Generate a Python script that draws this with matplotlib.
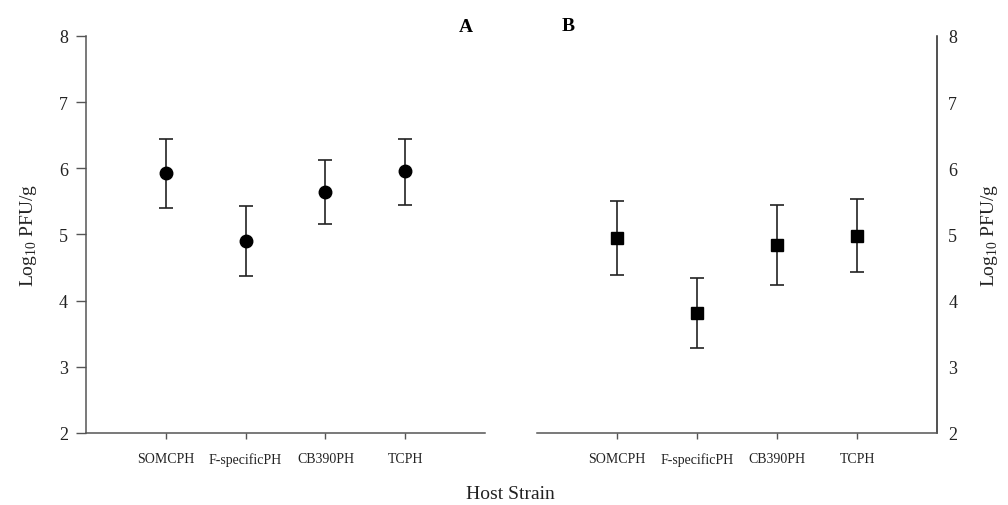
import matplotlib.pyplot as plt
import numpy as np

# Log10 PFU/g per host strain, panels A and B (mean with upper/lower bar ends)
strains = ["SOMCPH", "F-specificPH", "CB390PH", "TCPH"]

a_mean = [5.93, 4.90, 5.64, 5.96]
a_upper = [6.44, 5.43, 6.12, 6.45]
a_lower = [5.40, 4.38, 5.16, 5.45]

b_mean = [4.95, 3.82, 4.84, 4.98]
b_upper = [5.51, 4.34, 5.45, 5.53]
b_lower = [4.39, 3.29, 4.24, 4.43]

plt.rcParams['font.family'] = ['Liberation Serif', 'DejaVu Serif']
plt.rcParams['mathtext.fontset'] = 'custom'
plt.rcParams['mathtext.rm'] = 'Liberation Serif'

SPINE_COLOUR = "#555555"
TEXT_COLOUR = "#222222"

fig = plt.figure(figsize=(10.08, 5.06), dpi=100)
axA = fig.add_axes([0.0853, 0.1423, 0.396, 0.7846])
axB = fig.add_axes([0.5327, 0.1423, 0.397, 0.7846])

x = np.arange(1, len(strains) + 1)


def drawPanel(ax, mean, upper, lower, marker, ms):
    mean = np.array(mean)
    yerr = [mean - np.array(lower), np.array(upper) - mean]
    ax.errorbar(x, mean, yerr=yerr, fmt=marker, color='black', ms=ms,
                ecolor='#222222', elinewidth=1.2, capsize=5, capthick=1.2)
    ax.set_xlim(0, 5)
    ax.set_ylim(2, 8)
    ax.set_xticks(x)
    ax.set_xticklabels(strains, fontsize=10, color=TEXT_COLOUR)
    ax.set_yticks(range(2, 9))
    ax.spines['top'].set_visible(False)
    for s in ax.spines.values():
        s.set_color(SPINE_COLOUR)
        s.set_linewidth(1.1)
    ax.tick_params(axis='x', length=4, width=1, color=SPINE_COLOUR, pad=10)
    ax.tick_params(axis='y', labelsize=13, labelcolor=TEXT_COLOUR)


drawPanel(axA, a_mean, a_upper, a_lower, 'o', 9)
axA.spines['right'].set_visible(False)
axA.tick_params(axis='y', length=7, width=1, color=SPINE_COLOUR, pad=6)
axA.set_ylabel("Log$_{10}$ PFU/g", fontsize=14, color=TEXT_COLOUR, labelpad=14)

drawPanel(axB, b_mean, b_upper, b_lower, 's', 8)
axB.spines['left'].set_visible(False)
axB.spines['right'].set_color('#222222')
axB.yaxis.tick_right()
axB.yaxis.set_label_position('right')
axB.tick_params(axis='y', length=0, pad=8)
axB.set_ylabel("Log$_{10}$ PFU/g", fontsize=14, color=TEXT_COLOUR, labelpad=16)

fig.text(0.462, 0.945, "A", fontsize=14, fontweight='bold', ha='center', va='center')
fig.text(0.564, 0.948, "B", fontsize=14, fontweight='bold', ha='center', va='center')
fig.text(0.506, 0.022, "Host Strain", fontsize=14, color=TEXT_COLOUR, ha='center', va='center')

fig.savefig("out.png", dpi=100)
